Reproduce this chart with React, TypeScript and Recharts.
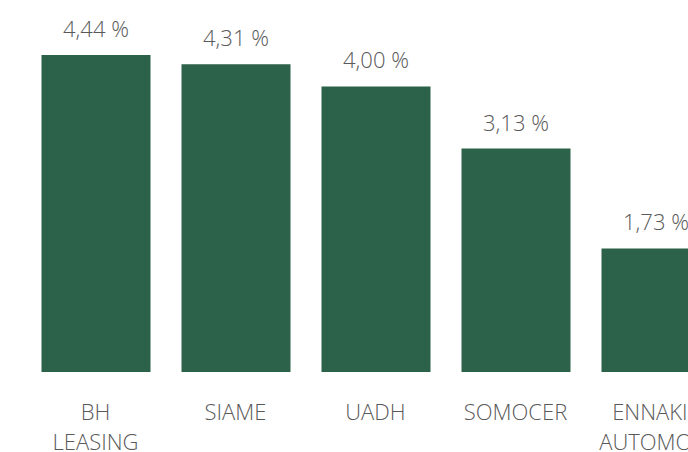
import { Bar, BarChart, LabelList, XAxis, YAxis } from "recharts";

const companies = ["BH LEASING", "SIAME", "UADH", "SOMOCER", "ENNAKIL AUTOMOBILES"];
const yields = [4.44, 4.31, 4.0, 3.13, 1.73];

const data = companies.map((name, i) => ({ name, value: yields[i] }));

const TEXT = "#595959";
const FONT = "'Open Sans', sans-serif";
const MAX_CHARS = 8; // a word longer than this is broken, like the spreadsheet does

function formatPct(value: number): string {
  return `${value.toFixed(2).replace(".", ",")} %`;
}

function wrapLabel(label: string): string[] {
  const lines: string[] = [];
  for (const word of label.split(" ")) {
    let rest = word;
    while (rest.length > MAX_CHARS) {
      lines.push(rest.slice(0, MAX_CHARS));
      rest = rest.slice(MAX_CHARS);
    }
    lines.push(rest);
  }
  return lines;
}

function CategoryTick({ x, y, payload }: any) {
  const lines = wrapLabel(String(payload.value));
  return (
    <text
      x={x}
      y={y}
      textAnchor="middle"
      fill={TEXT}
      fontSize={22}
      fontWeight={350}
      fontFamily={FONT}
    >
      {lines.map((w, i) => (
        <tspan key={i} x={x} dy={i === 0 ? 48 : 30}>
          {w}
        </tspan>
      ))}
    </text>
  );
}

export default function App() {
  return (
    <div
      style={{
        position: "absolute",
        left: 0,
        top: 0,
        width: 688,
        height: 452,
        overflow: "hidden",
        background: "#fff",
      }}
    >
      <BarChart
        width={740}
        height={452}
        data={data}
        margin={{ top: 15, right: 14.5, left: 25.5, bottom: 0 }}
      >
        <XAxis
          dataKey="name"
          height={80}
          axisLine={false}
          tickLine={false}
          tickSize={0}
          tickMargin={0}
          interval={0}
          tick={<CategoryTick />}
        />
        <YAxis hide domain={[0, 5]} />
        <Bar dataKey="value" fill="#2C614A" barSize={109} isAnimationActive={false}>
          <LabelList
            dataKey="value"
            position="top"
            offset={18}
            formatter={(v: any) => formatPct(Number(v))}
            fill={TEXT}
            fontSize={22}
            fontWeight={350}
            fontFamily={FONT}
          />
        </Bar>
      </BarChart>
    </div>
  );
}
